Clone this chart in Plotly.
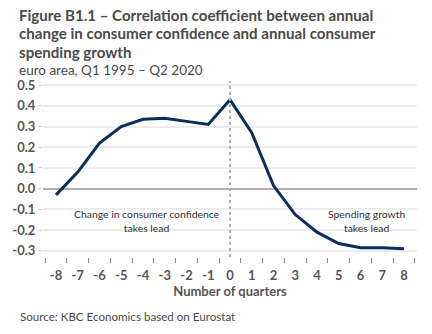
import plotly.graph_objects as go

quarters = list(range(-8, 9))
correlation = [-0.03, 0.08, 0.22, 0.30, 0.335, 0.34, 0.325, 0.31, 0.43,
               0.27, 0.015, -0.125, -0.21, -0.265, -0.285, -0.285, -0.29]
y_ticks = [0.5, 0.4, 0.3, 0.2, 0.1, 0.0, -0.1, -0.2, -0.3]

title_lines = ["Figure B1.1 – Correlation coefficient between annual",
               "change in consumer confidence and annual consumer",
               "spending growth"]
subtitle = "euro area, Q1 1995 – Q2 2020"
source = "Source: KBC Economics based on Eurostat"

FONT = "Lato"
GRAY = "#555555"

W, H = 432, 334
l, r, t, b = 35, 15, 81, 77

fig = go.Figure()
fig.add_trace(go.Scatter(x=quarters, y=correlation, mode="lines",
                         line=dict(color="#0b2d5b", width=3), showlegend=False))
# invisible trace for the between-category tick marks
fig.add_trace(go.Scatter(x=[q + 0.5 for q in quarters[:-1]] + [-8.5],
                         y=[None] * 17, xaxis="x2", showlegend=False, hoverinfo="skip"))

fig.add_vline(x=0, line=dict(color="#b0b0b0", width=2, dash="dot"))

fig.update_layout(
    width=W, height=H,
    margin=dict(l=l, r=r, t=t, b=b),
    paper_bgcolor="white", plot_bgcolor="white",
    font=dict(family=FONT, color=GRAY),
    xaxis=dict(range=[-8.6, 8.6], tickvals=quarters,
               ticktext=[f"<b>{q}</b>" for q in quarters],
               tickfont=dict(size=13, family=FONT, color=GRAY),
               showgrid=False, zeroline=False, showline=False,
               ticks="", ticklabelstandoff=9,
               title=dict(text="<b>Number of quarters</b>", font=dict(size=13, color=GRAY),
                          standoff=0)),
    xaxis2=dict(overlaying="x", range=[-8.6, 8.6], side="bottom",
                tickvals=[q + 0.5 for q in range(-9, 9)],
                showticklabels=False, ticks="outside", ticklen=5, tickcolor="#888888",
                tickwidth=1, showgrid=False, zeroline=False, showline=False),
    yaxis=dict(range=[-0.33, 0.52], tickvals=y_ticks,
               ticktext=[f"<b>{v:.1f}</b>" for v in y_ticks],
               tickfont=dict(size=13, color=GRAY, family=FONT),
               showgrid=True, gridcolor="#ececec", gridwidth=2,
               zeroline=True, zerolinecolor="#b0b0b0", zerolinewidth=2,
               ticks="outside", ticklen=4, tickcolor="#d0d0d0",
               showline=False),
)

fig.add_annotation(x=-3.8, y=-0.155, xref="x", yref="y",
                   text="Change in consumer confidence<br>takes lead",
                   showarrow=False, font=dict(size=10.4, color="#333333", family=FONT),
                   align="center")
fig.add_annotation(x=6.3, y=-0.155, xref="x", yref="y",
                   text="Spending growth<br>takes lead",
                   showarrow=False, font=dict(size=10.4, color="#333333", family=FONT),
                   align="center")


def px_to_paper(px, py):
    return (px - l) / (W - l - r), 1 - (py - t) / (H - t - b)


for i, line in enumerate(title_lines):
    x, y = px_to_paper(8, 15 + 18.5 * i)
    fig.add_annotation(x=x, y=y, xref="paper", yref="paper", text=f"<b>{line}</b>",
                       showarrow=False, xanchor="left", yanchor="middle",
                       font=dict(size=15.1, color="#4a4a4a", family=FONT))
x, y = px_to_paper(8, 70)
fig.add_annotation(x=x, y=y, xref="paper", yref="paper", text=subtitle, showarrow=False,
                   xanchor="left", yanchor="middle",
                   font=dict(size=13.5, color="#4a4a4a", family=FONT))
x, y = px_to_paper(9, 316)
fig.add_annotation(x=x, y=y, xref="paper", yref="paper", text=source, showarrow=False,
                   xanchor="left", yanchor="middle",
                   font=dict(size=11.6, color="#4a4a4a", family=FONT))

fig.write_html("out.html")
